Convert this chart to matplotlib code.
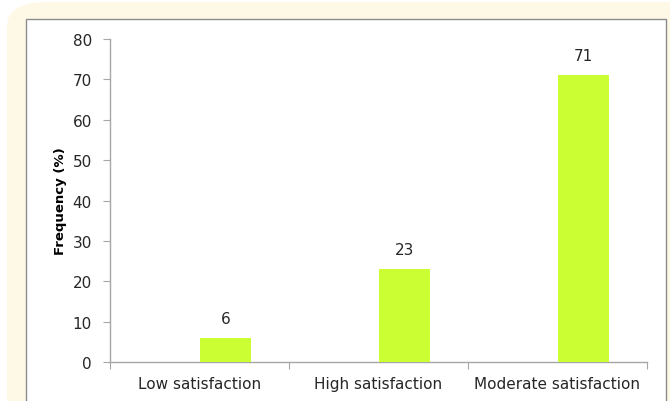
import matplotlib.pyplot as plt
from matplotlib.patches import FancyBboxPatch, Rectangle

categories = ["Low satisfaction", "High satisfaction", "Moderate satisfaction"]
values = [6, 23, 71]
yticks = [0, 10, 20, 30, 40, 50, 60, 70, 80]

W, H = 670, 402
fig = plt.figure(figsize=(W / 100, H / 100), dpi=100)
fig.patch.set_facecolor("white")

# cream rounded panel behind the chart
cream = FancyBboxPatch((7 / W, -0.2), 1.2, 1.2 - 3 / H,
                       boxstyle="round,pad=0,rounding_size=0.06",
                       transform=fig.transFigure, facecolor="#FEF9E7",
                       edgecolor="none", zorder=-2)
fig.patches.append(cream)
# white chart area with grey border
box = Rectangle((26 / W, -0.1), (666 - 26) / W, 1.1 - 20 / H,
                transform=fig.transFigure, facecolor="white",
                edgecolor="#8c8c8c", linewidth=1.0, zorder=-1)
fig.patches.append(box)

ax = fig.add_axes([110 / W, 1 - 363 / H, (647 - 110) / W, (363 - 40) / H])
ax.set_facecolor("none")

# excel-style cluster: the bar sits in the right half of each category slot
bw = 0.29
x = list(range(len(categories)))
xb = [i + bw / 2 for i in x]
ax.bar(xb, values, width=bw, color="#CCFF33", zorder=3)
for xi, v in zip(xb, values):
    ax.text(xi, v + 3, str(v), ha="center", va="bottom", fontsize=11,
            color="#262626")

ax.set_xlim(-0.5, len(categories) - 0.5)
ax.set_ylim(0, 80)
ax.set_yticks(yticks)
ax.set_yticklabels([str(t) for t in yticks], fontsize=11, color="#262626")

ax.set_xticks([-0.5, 0.5, 1.5, 2.5])
ax.set_xticklabels([])
ax.set_xticks(x, minor=True)
ax.set_xticklabels(categories, minor=True, fontsize=11, color="#262626")
ax.tick_params(axis="x", which="minor", length=0, pad=10)
ax.tick_params(axis="x", which="major", length=5, color="#a6a6a6", direction="out")
ax.tick_params(axis="y", length=5, color="#a6a6a6", pad=8)

for s in ["top", "right"]:
    ax.spines[s].set_visible(False)
for s in ["left", "bottom"]:
    ax.spines[s].set_color("#a6a6a6")
    ax.spines[s].set_linewidth(1.0)

ax.set_ylabel("Frequency (%)", fontsize=9.5, fontweight="bold", labelpad=4)

fig.savefig("out.png", dpi=100)
